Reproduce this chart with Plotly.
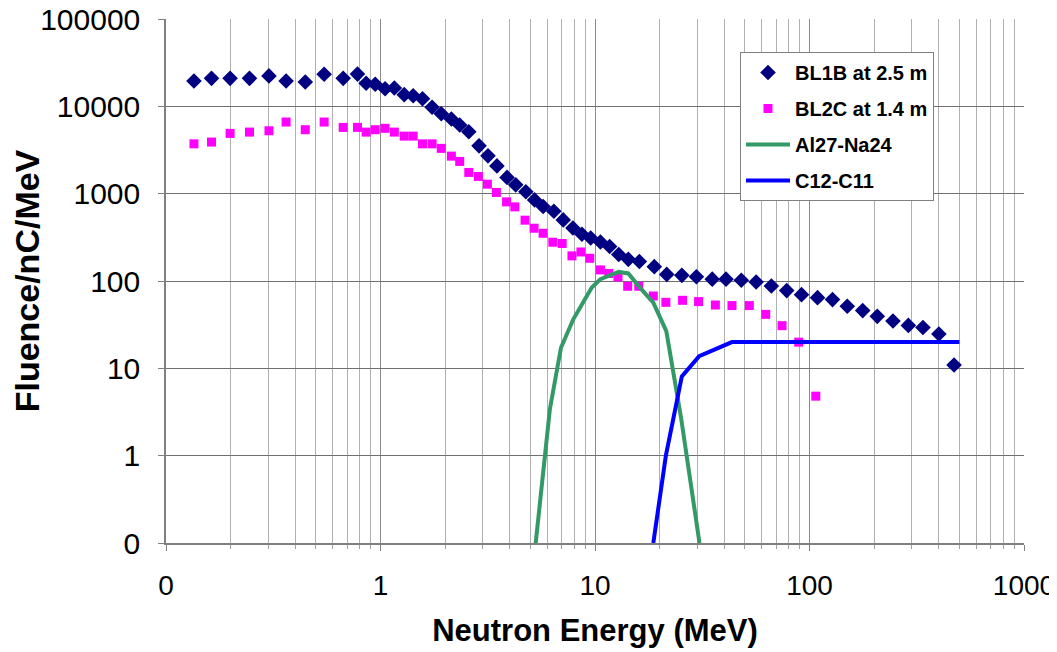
import plotly.graph_objects as go

# ---- data ----
bl1b_e = [0.135, 0.163, 0.199, 0.245, 0.302, 0.363, 0.446, 0.546, 0.670, 0.781,
          0.857, 0.945, 1.05, 1.16, 1.29, 1.42, 1.57, 1.74, 1.92, 2.14,
          2.34, 2.58, 2.88, 3.17, 3.49, 3.89, 4.27, 4.76, 5.23, 5.73,
          6.43, 7.11, 7.89, 8.69, 9.55, 10.6, 11.7, 12.9, 14.3, 16.1,
          18.9, 21.6, 25.4, 29.7, 35.2, 40.8, 48.1, 56.4, 66.4, 78.3,
          91.8, 109, 128, 150, 177, 207, 245, 289, 338, 401, 472]
bl1b_v = [19500, 20900, 20900, 20900, 22300, 19500, 19000, 23300, 20900, 23400,
          18400, 17900, 15900, 16200, 13600, 13200, 12200, 9750, 8230, 7150,
          6110, 5120, 3530, 2710, 2080, 1535, 1262, 1050, 849, 713,
          630, 501, 405, 343, 311, 280, 248, 201, 177, 167,
          146, 119, 116, 112, 105, 105, 102, 97.5, 87.8, 77.6,
          69.8, 64.5, 61.2, 51.3, 45.8, 39.4, 34.8, 31.0, 29.4, 24.7, 10.9]

bl2c_e = [0.135, 0.163, 0.199, 0.245, 0.302, 0.363, 0.446, 0.546, 0.670, 0.781,
          0.857, 0.945, 1.05, 1.16, 1.29, 1.42, 1.57, 1.74, 1.92, 2.14,
          2.34, 2.58, 2.86, 3.15, 3.47, 3.87, 4.23, 4.72, 5.20, 5.73,
          6.36, 7.03, 7.81, 8.60, 9.45, 10.6, 11.6, 12.8, 14.2, 16.0,
          18.7, 21.4, 25.6, 30.4, 36.4, 43.5, 52.4, 62.5, 74.5, 89.1, 107]
bl2c_v = [3720, 3900, 4900, 5070, 5250, 6610, 5400, 6610, 5740, 5740,
          5070, 5400, 5600, 5070, 4560, 4560, 3720, 3720, 3300, 2690,
          2340, 1750, 1574, 1285, 1033, 805, 706, 497, 402, 352,
          278, 269, 194, 215, 182, 134, 122, 111, 87, 87,
          67.3, 57.0, 60.1, 58.1, 53.1, 52.3, 52.3, 41.5, 30.8, 19.95, 4.8]

al_e = [5.24, 5.84, 6.16, 6.94, 7.92, 9.66, 10.6, 12.9, 14.3, 16.2, 18.7, 21.5, 25.2, 30.7]
al_v = [0.08, 0.98, 3.4, 17.2, 36.4, 84, 105, 127, 122, 84, 56.5, 26.7, 2.7, 0.1]

c_e = [18.7, 21.4, 25.4, 30.6, 43.5, 500]
c_v = [0.1, 1.0, 8.1, 13.8, 20.0, 20.0]

x_tickvals = [0.1, 1, 10, 100, 1000]
x_ticktext = ["0", "1", "10", "100", "1000"]
y_tickvals = [0.1, 1, 10, 100, 1000, 10000, 100000]
y_ticktext = ["0", "1", "10", "100", "1000", "10000", "100000"]
minor_vals = [m * 10 ** k for k in (-1, 0, 1, 2) for m in range(2, 10)]

FONT = "Liberation Sans, Arial, sans-serif"

fig = go.Figure()
fig.add_trace(go.Scatter(x=bl1b_e, y=bl1b_v, mode="markers", name="BL1B at 2.5 m",
                         legendgroup="a",
                         marker=dict(symbol="diamond", size=12, color="#000080")))
fig.add_trace(go.Scatter(x=bl2c_e, y=bl2c_v, mode="markers", name="BL2C at 1.4 m",
                         legendgroup="b",
                         marker=dict(symbol="square", size=9, color="#FF00FF")))
fig.add_trace(go.Scatter(x=al_e, y=al_v, mode="lines", name="Al27-Na24",
                         legendgroup="c",
                         line=dict(color="#339966", width=4)))
fig.add_trace(go.Scatter(x=c_e, y=c_v, mode="lines", name="C12-C11",
                         legendgroup="d",
                         line=dict(color="#0000FF", width=4)))

# page body has an 8px margin, so the figure is sized/placed to compensate
fig.update_layout(
    width=1049, height=644,
    margin=dict(l=158, r=33, t=11, b=109),
    paper_bgcolor="white", plot_bgcolor="white",
    font=dict(family=FONT, color="black"),
    showlegend=True,
    legend=dict(x=0.669, y=0.937, xanchor="left", yanchor="top",
                bgcolor="white", bordercolor="#808080", borderwidth=1,
                font=dict(size=20, family=FONT, color="black", weight="bold"),
                tracegroupgap=7, itemwidth=44),
)
fig.update_xaxes(
    type="log", range=[-1, 3], automargin=False,
    tickvals=x_tickvals, ticktext=x_ticktext,
    tickfont=dict(size=28, family=FONT),
    ticks="outside", ticklen=6, tickcolor="#808080",
    ticklabelstandoff=11, ticklabeloverflow="allow",
    showgrid=True, gridcolor="#8c8c8c", gridwidth=1,
    minor=dict(tickvals=minor_vals, showgrid=True, gridcolor="#b0b0b0",
               ticks="outside", ticklen=4, tickcolor="#a0a0a0"),
    showline=True, linecolor="#808080", linewidth=1.5,
    mirror=False, zeroline=False,
    title=dict(text="Neutron Energy (MeV)", standoff=19,
               font=dict(size=31, family=FONT, weight="bold")),
)
fig.update_yaxes(
    type="log", range=[-1, 5], automargin=False,
    tickvals=y_tickvals, ticktext=y_ticktext,
    tickfont=dict(size=30, family=FONT),
    ticks="outside", ticklen=6, tickcolor="#808080",
    ticklabelstandoff=12, ticklabeloverflow="allow",
    showgrid=True, gridcolor="#707070", gridwidth=1,
    showline=True, linecolor="#808080", linewidth=1.5,
    zeroline=False,
    title=dict(text="Fluence/nC/MeV", standoff=12,
               font=dict(size=34, family=FONT, weight="bold")),
)

fig.write_html("out.html")
